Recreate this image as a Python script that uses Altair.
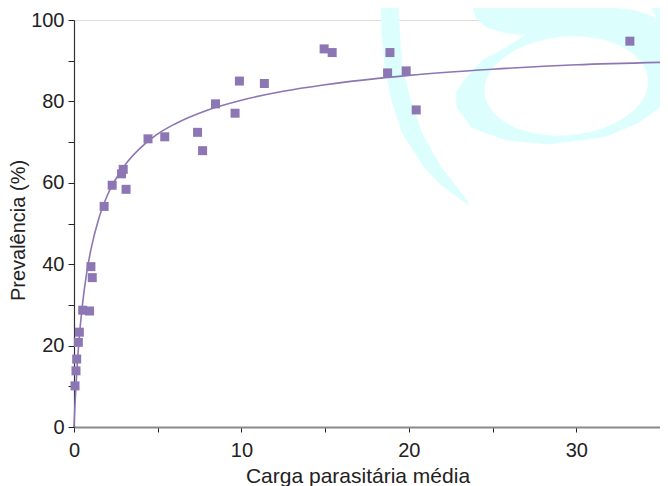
import altair as alt
import numpy as np
import pandas as pd

# ---------------- data ----------------
carga = [0.06, 0.12, 0.16, 0.26, 0.32, 0.52, 0.93, 1.01, 1.09, 1.80, 2.28, 2.84, 2.94,
         3.11, 4.42, 5.42, 7.38, 7.68, 8.45, 9.62, 9.88, 11.37, 14.94, 15.42, 18.73,
         18.87, 19.84, 20.44, 33.2]
prevalencia = [10.1, 13.8, 16.7, 20.8, 23.3, 28.7, 28.5, 39.4, 36.7, 54.2, 59.4, 62.2, 63.3,
               58.4, 70.8, 71.3, 72.4, 67.9, 79.4, 77.1, 85.0, 84.4, 92.9, 92.0, 87.0,
               92.0, 87.5, 77.9, 94.8]

# fitted curve, read at selected abscissae
curva_x = [0, 0.05, 0.1, 0.2, 0.3, 0.5, 0.75, 1, 1.5, 2, 3, 4, 5, 6, 8, 10, 12.5, 15,
           20, 25, 30, 35]
curva_y = [0, 4.7, 8.8, 15.7, 21.3, 29.9, 37.7, 43.4, 51.5, 57.0, 64.1, 68.7, 72.0, 74.4,
           77.9, 80.3, 82.5, 84.1, 86.4, 87.9, 89.0, 89.6]

x_ticks = [0, 5, 10, 15, 20, 25, 30, 35]
y_ticks = [0, 10, 20, 30, 40, 50, 60, 70, 80, 90, 100]

# ---------------- background watermark outlines (data units) ----------------
crescent_x = [18.32, 18.38, 18.57, 18.97, 19.60, 20.89, 21.79, 23.15, 23.57,
              23.45, 22.68, 21.89, 20.79, 20.10, 19.60, 19.45, 19.36]
crescent_y = [104.9, 96.7, 88.5, 80.3, 72.2, 64.0, 59.9, 55.8, 54.5,
              55.8, 59.9, 64.0, 72.2, 80.3, 88.5, 96.7, 104.9]

ring_x = [23.75, 36.67, 36.67, 35.36, 33.69, 31.73, 28.33, 25.77, 23.75, 22.86, 22.80,
          23.33, 24.40, 25.77, 26.96, 25.77, 24.58, 23.99]
ring_y = [104.9, 104.9, 82.8, 79.6, 74.7, 71.3, 69.5, 70.5, 73.5, 78.6, 82.1,
          85.3, 90.2, 93.1, 96.3, 96.8, 98.3, 100.7]

wedge_x = [26.37, 27.74, 29.70, 31.90, 33.39, 34.29, 34.76, 34.52, 34.17]
wedge_y = [104.9, 104.2, 103.7, 103.2, 102.5, 101.5, 100.5, 102.5, 104.9]

# inner hole of the ring: ellipse (pixel-space parameters converted to data units)
_t = np.linspace(0, 2 * np.pi, 72, endpoint=False)
_th = np.deg2rad(5)
_px = 568 + 82 * np.cos(_t) * np.cos(_th) + 49 * np.sin(_t) * np.sin(_th)
_py = 86 - 82 * np.cos(_t) * np.sin(_th) + 49 * np.sin(_t) * np.cos(_th)
hole_x = list((_px - 74) / 16.8)
hole_y = list((427 - _py) / 4.07)

# ---------------- tables ----------------
pts = pd.DataFrame({"x": carga, "y": prevalencia})
curve = pd.DataFrame({"x": curva_x, "y": curva_y})


def poly(xs, ys, name):
    return pd.DataFrame({"x": xs, "y": ys, "i": range(len(xs)), "s": name})


cyan = pd.concat([poly(crescent_x, crescent_y, "c"), poly(ring_x, ring_y, "r")])
white = pd.concat([poly(wedge_x, wedge_y, "w"), poly(hole_x, hole_y, "h")])

FONT = "Liberation Sans"
TXT = "#222222"
PURPLE = "#8c76b4"

xenc = alt.X(
    "x:Q",
    scale=alt.Scale(domain=[0, 35], nice=False, zero=True),
    axis=alt.Axis(
        values=x_ticks,
        labelExpr="datum.value % 10 == 0 ? datum.label : ''",
        labelFlush=False,
        labelOverlap=False,
        grid=False,
        domainColor="#8a8a8a",
        domainWidth=2,
        tickColor=TXT,
        tickSize=5,
        labelFont=FONT,
        labelFontSize=20,
        labelColor=TXT,
        labelBaseline="alphabetic",
        labelPadding=24,
        title="Carga parasitária média",
        titleFont=FONT,
        titleFontSize=21,
        titleFontWeight="normal",
        titleColor=TXT,
        titleX=283.5,
        titleY=55,
        titleAlign="center",
        titleBaseline="alphabetic",
    ),
)
yenc = alt.Y(
    "y:Q",
    scale=alt.Scale(domain=[0, 100], nice=False, zero=True),
    axis=alt.Axis(
        values=y_ticks,
        labelExpr="datum.value % 20 == 0 ? datum.label : ''",
        labelFlush=False,
        labelOverlap=False,
        grid=False,
        domainColor="#333333",
        domainWidth=1.2,
        tickColor=TXT,
        tickSize=6,
        labelFont=FONT,
        labelFontSize=20,
        labelColor=TXT,
        labelPadding=4,
        title="Prevalência (%)",
        titleFont=FONT,
        titleFontSize=20,
        titleFontWeight="normal",
        titleColor=TXT,
        titleAngle=270,
        titleX=-49.7,
        titleY=210,
        titleAlign="center",
        titleBaseline="alphabetic",
    ),
)

wm_cyan = alt.Chart(cyan).mark_line(
    interpolate="linear-closed", fill="#dcfffe", stroke="#dcfffe", strokeWidth=0.5
).encode(x=xenc, y=yenc, order="i:Q", detail="s:N")

wm_white = alt.Chart(white).mark_line(
    interpolate="linear-closed", fill="white", stroke="white", strokeWidth=0.5
).encode(x=xenc, y=yenc, order="i:Q", detail="s:N")

line = alt.Chart(curve).mark_line(
    color=PURPLE, strokeWidth=1.6, interpolate="monotone"
).encode(x=xenc, y=yenc)

points = alt.Chart(pts).mark_point(
    shape="square", filled=True, size=81, color=PURPLE, opacity=1
).encode(x=xenc, y=yenc)

chart = (
    alt.layer(wm_cyan, wm_white, line, points)
    .properties(
        width=586,
        height=407,
        padding={"left": 66, "top": 12, "right": 0, "bottom": 59},
        autosize=alt.AutoSizeParams(type="none"),
    )
    .configure_view(stroke=None)
    .configure(background="white")
)

chart.save("out.html", embed_options={"renderer": "svg", "actions": False})
